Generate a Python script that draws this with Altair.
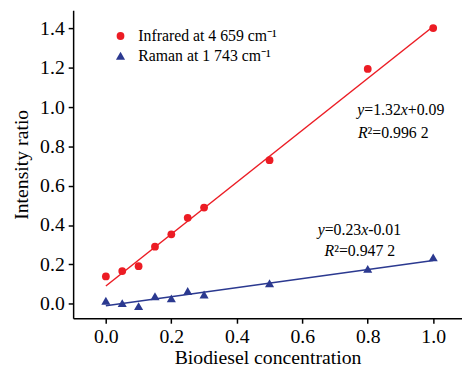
import altair as alt
import pandas as pd

# ---- data ----
conc = [0.0, 0.05, 0.10, 0.15, 0.20, 0.25, 0.30, 0.50, 0.80, 1.00]
infrared = [0.139, 0.166, 0.191, 0.290, 0.353, 0.437, 0.489, 0.730, 1.194, 1.402]
raman = [0.015, 0.003, -0.012, 0.038, 0.027, 0.065, 0.047, 0.104, 0.177, 0.236]

series_names = ["Infrared at 4 659 cm\u207b\u00b9", "Raman at 1 743 cm\u207b\u00b9"]
series_colors = ["#ec1c24", "#2b3990"]
series_shapes = ["circle", "triangle-up"]
series_sizes = [62, 85]

fit_slope = [1.32, 0.23]
fit_intercept = [0.09, -0.01]
fit_x = [0.0, 1.0]

x_ticks = [0.0, 0.2, 0.4, 0.6, 0.8, 1.0]
y_ticks = [0.0, 0.2, 0.4, 0.6, 0.8, 1.0, 1.2, 1.4]

# annotation pieces: (x, y, text, italic, dx)
ann_pieces = [
    (0.768, 0.985, "y", True, 0),
    (0.768, 0.985, "=1.32", False, 7.1),
    (0.768, 0.985, "x", True, 44.1),
    (0.768, 0.985, "+0.09", False, 51.2),
    (0.770, 0.868, "R", True, 0),
    (0.770, 0.868, "\u00b2=0.996 2", False, 9.8),
    (0.647, 0.374, "y", True, 0),
    (0.647, 0.374, "=0.23", False, 7.1),
    (0.647, 0.374, "x", True, 44.1),
    (0.647, 0.374, "-0.01", False, 51.2),
    (0.668, 0.268, "R", True, 0),
    (0.668, 0.268, "\u00b2=0.947 2", False, 9.8),
]

FONT = "Liberation Serif, Times New Roman, serif"

pts = pd.DataFrame({
    "x": conc + conc,
    "y": infrared + raman,
    "series": [series_names[0]] * len(conc) + [series_names[1]] * len(conc),
})

xs = alt.Scale(domain=[-0.1, 1.088], nice=False, zero=False)
ys = alt.Scale(domain=[-0.074, 1.492], nice=False, zero=False)

x_enc = alt.X("x:Q", scale=xs, title="Biodiesel concentration",
              axis=alt.Axis(values=x_ticks, format=".1f", grid=False,
                            titlePadding=1, labelPadding=4))
y_enc = alt.Y("y:Q", scale=ys, title="Intensity ratio",
              axis=alt.Axis(values=y_ticks, format=".1f", grid=False,
                            titlePadding=8, labelPadding=4))

points = alt.Chart(pts).mark_point(filled=True, opacity=1).encode(
    x=x_enc,
    y=y_enc,
    color=alt.Color("series:N", scale=alt.Scale(domain=series_names, range=series_colors),
                    sort=series_names,
                    legend=alt.Legend(title=None, orient="none", legendX=40, legendY=18,
                                      labelFont=FONT, labelFontSize=16, labelColor="black",
                                      symbolSize=60, symbolStrokeWidth=0, labelOffset=10,
                                      rowPadding=4, padding=0)),
    shape=alt.Shape("series:N", scale=alt.Scale(domain=series_names, range=series_shapes),
                    sort=series_names, legend=None),
    size=alt.Size("series:N", scale=alt.Scale(domain=series_names, range=series_sizes),
                  sort=series_names, legend=None),
)

layers = []
for i in range(2):
    fdf = pd.DataFrame({"x": fit_x, "y": [fit_slope[i] * v + fit_intercept[i] for v in fit_x]})
    layers.append(alt.Chart(fdf).mark_line(color=series_colors[i], strokeWidth=1.5).encode(
        x=alt.X("x:Q", scale=xs), y=alt.Y("y:Q", scale=ys)))

for (ax, ay, txt, ital, dx) in ann_pieces:
    adf = pd.DataFrame({"x": [ax], "y": [ay], "t": [txt]})
    layers.append(alt.Chart(adf).mark_text(
        font=FONT, fontSize=16, fontStyle="italic" if ital else "normal",
        align="left", baseline="middle", dx=dx, color="black").encode(
        x=alt.X("x:Q", scale=xs), y=alt.Y("y:Q", scale=ys), text="t:N"))

chart = alt.layer(*layers, points).properties(
    width=394, height=312,
    autosize=alt.AutoSizeParams(type="none"),
    padding={"left": 66, "top": 0, "right": 0, "bottom": 48},
    background="white",
).configure_view(stroke=None).configure_axis(
    labelFont=FONT, labelFontSize=20, labelColor="black",
    titleFont=FONT, titleFontSize=20, titleFontWeight="normal", titleColor="black",
    domainColor="black", domainWidth=1.5, tickColor="black", tickWidth=1.5, tickSize=5,
)

chart.save("out.html", embed_options={"renderer": "svg", "actions": False})
